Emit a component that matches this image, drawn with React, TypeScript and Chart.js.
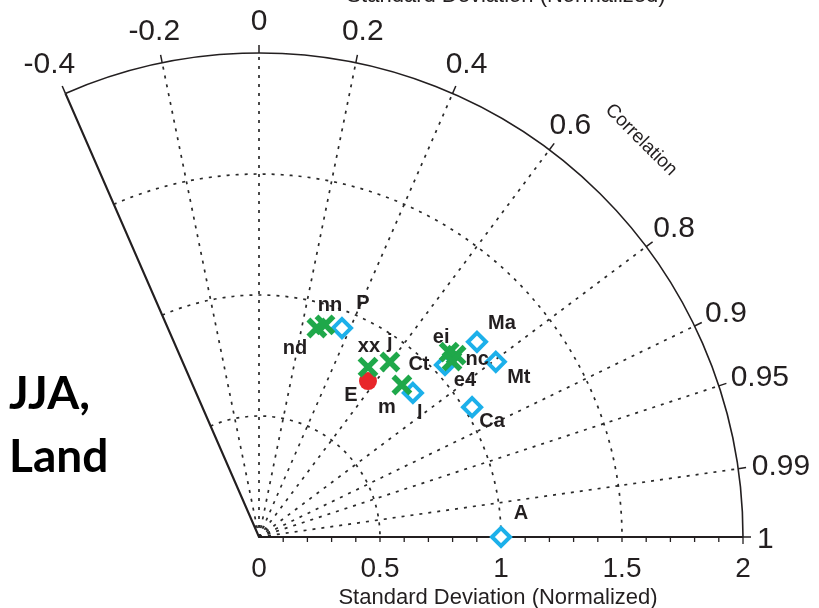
import { useEffect, useRef } from "react";
import { Chart, registerables } from "chart.js";

Chart.register(...registerables);

// Correlation rays / labels around the outer arc
const corrTicks = [-0.4, -0.2, 0, 0.2, 0.4, 0.6, 0.8, 0.9, 0.95, 0.99, 1];
const corrTickLabels = ["-0.4", "-0.2", "0", "0.2", "0.4", "0.6", "0.8", "0.9", "0.95", "0.99", "1"];

// Normalized standard deviation axis
const stdArcs = [0.5, 1, 1.5];
const stdTicks = [0, 0.5, 1, 1.5, 2];
const stdTickLabels = ["0", "0.5", "1", "1.5", "2"];
const stdMax = 2;

// Green crosses
const modelNames = ["nd", "nn", "xx", "j", "m", "ei", "nc", "e4"];
const modelStd = [0.896, 0.918, 0.834, 0.903, 0.862, 1.096, 1.108, 1.079];
const modelCorr = [0.267, 0.297, 0.54, 0.599, 0.685, 0.717, 0.735, 0.739];

// Blue diamonds
const obsNames = ["P", "l", "Ct", "Ma", "Mt", "Ca"];
const obsStd = [0.929, 0.871, 1.047, 1.209, 1.217, 1.031];
const obsCorr = [0.369, 0.73, 0.734, 0.745, 0.804, 0.854];

// Red circle
const ensNames = ["E"];
const ensStd = [0.786];
const ensCorr = [0.573];

// Reference point
const refNames = ["A"];
const refStd = [1];
const refCorr = [1];

// Label offsets in pixels from each marker (layout only)
const modelLabelOffsets = [[-22, 19], [5, -20], [1, -22], [0, -21], [-15, 21], [-8, -16], [21, 3], [13, 18]];
const obsLabelOffsets = [[21, -26], [7, 20], [-26, -1], [25, -19], [23, 15], [20, 13]];
const ensLabelOffsets = [[-17, 13]];
const refLabelOffsets = [[20, -25]];

const GREEN = "#1fa84a";
const BLUE = "#1cb0ea";
const RED = "#e8262a";
const INK = "#231f20";
const SANS = '"Liberation Sans", Arial, sans-serif';

const W = 819;
const H = 608;
const ORIGIN_X = 259;
const ORIGIN_Y = 537;
const UNIT = 242;

const toXY = (s: number, c: number) => ({ x: s * c, y: s * Math.sqrt(Math.max(0, 1 - c * c)) });
const toPoints = (std: number[], corr: number[]) => std.map((s, i) => toXY(s, corr[i]));

const taylorPlugin = {
  id: "taylor",
  beforeDatasetsDraw(chart: any) {
    const { ctx } = chart;
    const sx = chart.scales.x;
    const sy = chart.scales.y;
    const ox = sx.getPixelForValue(0);
    const oy = sy.getPixelForValue(0);
    const unit = sx.getPixelForValue(1) - ox;
    const R = stdMax * unit;
    const thetaMax = Math.acos(corrTicks[0]);

    ctx.save();
    ctx.lineCap = "butt";

    // dotted std-dev arcs
    ctx.strokeStyle = "#2a2a2a";
    ctx.lineWidth = 1.7;
    ctx.setLineDash([3, 6]);
    for (const r of stdArcs) {
      ctx.beginPath();
      ctx.arc(ox, oy, r * unit, -thetaMax, 0);
      ctx.stroke();
    }

    // dotted correlation rays
    for (const c of corrTicks) {
      if (c === corrTicks[0] || c === 1) continue;
      const t = Math.acos(c);
      ctx.beginPath();
      ctx.moveTo(ox, oy);
      ctx.lineTo(ox + R * Math.cos(t), oy - R * Math.sin(t));
      ctx.stroke();
    }

    // small arc at the origin
    ctx.setLineDash([2, 2]);
    ctx.lineWidth = 2;
    ctx.beginPath();
    ctx.arc(ox, oy, 11, -thetaMax, 0);
    ctx.stroke();
    ctx.setLineDash([]);

    // solid frame
    ctx.strokeStyle = INK;
    ctx.lineWidth = 1.6;
    ctx.beginPath();
    ctx.arc(ox, oy, R, -thetaMax, 0);
    ctx.stroke();

    ctx.lineWidth = 2.2;
    ctx.beginPath();
    ctx.moveTo(ox + R * Math.cos(thetaMax), oy - R * Math.sin(thetaMax));
    ctx.lineTo(ox, oy);
    ctx.lineTo(ox + R, oy);
    ctx.stroke();

    // outward ticks on the arc
    ctx.lineWidth = 1.5;
    for (const c of corrTicks) {
      const t = Math.acos(c);
      ctx.beginPath();
      ctx.moveTo(ox + R * Math.cos(t), oy - R * Math.sin(t));
      ctx.lineTo(ox + (R + 8) * Math.cos(t), oy - (R + 8) * Math.sin(t));
      ctx.stroke();
    }

    // minor ticks along the std axis
    ctx.lineWidth = 1.3;
    for (let k = 1; k <= 20; k++) {
      const px = sx.getPixelForValue(k / 10);
      ctx.beginPath();
      ctx.moveTo(px, oy);
      ctx.lineTo(px, oy + (k === 20 ? 7 : 5));
      ctx.stroke();
    }
    ctx.restore();
  },
  afterDatasetsDraw(chart: any) {
    const { ctx } = chart;
    const sx = chart.scales.x;
    const sy = chart.scales.y;
    const ox = sx.getPixelForValue(0);
    const oy = sy.getPixelForValue(0);
    const unit = sx.getPixelForValue(1) - ox;
    const R = stdMax * unit;

    ctx.save();
    ctx.fillStyle = INK;

    // correlation labels
    ctx.font = `30px ${SANS}`;
    ctx.textAlign = "center";
    ctx.textBaseline = "alphabetic";
    const h = 21.5;
    corrTicks.forEach((c, i) => {
      const t = Math.acos(c);
      const dx = Math.cos(t);
      const dy = Math.sin(t);
      const tipX = ox + (R + 8) * dx;
      const tipY = oy - (R + 8) * dy;
      const w = ctx.measureText(corrTickLabels[i]).width;
      const cx = tipX + dx * (w / 2 + 6);
      const cy = tipY - dy * (h / 2 + 15);
      ctx.fillText(corrTickLabels[i], cx, cy + h / 2);
    });

    // std-dev tick labels
    ctx.font = `28px ${SANS}`;
    stdTicks.forEach((v, i) => {
      ctx.fillText(stdTickLabels[i], sx.getPixelForValue(v), oy + 40);
    });

    // axis titles
    ctx.font = `22px ${SANS}`;
    ctx.fillText("Standard Deviation (Normalized)", 498, 604);
    ctx.fillText("Standard Deviation (Normalized)", 506, 2);

    ctx.save();
    ctx.translate(641, 140);
    ctx.rotate((45 * Math.PI) / 180);
    ctx.font = `19px ${SANS}`;
    ctx.textBaseline = "middle";
    ctx.fillText("Correlation", 0, 0);
    ctx.restore();

    // panel tag
    ctx.font = `bold 46px Lato, "Open Sans", sans-serif`;
    ctx.textAlign = "left";
    ctx.fillStyle = "#000";
    ctx.fillText("JJA,", 9, 409);
    ctx.fillText("Land", 9, 472);

    // point labels
    ctx.fillStyle = INK;
    ctx.font = `bold 20px ${SANS}`;
    ctx.textAlign = "center";
    ctx.textBaseline = "middle";
    const groups: [string[], number[], number[], number[][]][] = [
      [modelNames, modelStd, modelCorr, modelLabelOffsets],
      [obsNames, obsStd, obsCorr, obsLabelOffsets],
      [ensNames, ensStd, ensCorr, ensLabelOffsets],
      [refNames, refStd, refCorr, refLabelOffsets],
    ];
    for (const [names, std, corr, offs] of groups) {
      names.forEach((n, i) => {
        const p = toXY(std[i], corr[i]);
        const px = sx.getPixelForValue(p.x) + offs[i][0];
        const py = sy.getPixelForValue(p.y) + offs[i][1];
        ctx.fillText(n, px, py + 1);
      });
    }
    ctx.restore();
  },
};

export default function App() {
  const canvasRef = useRef<HTMLCanvasElement | null>(null);

  useEffect(() => {
    document.body.style.margin = "0";
    const canvas = canvasRef.current;
    if (!canvas) return;

    const chart = new Chart(canvas, {
      type: "scatter",
      data: {
        datasets: [
          {
            label: "models",
            data: toPoints(modelStd, modelCorr),
            pointStyle: "crossRot",
            pointRadius: 12,
            borderColor: GREEN,
            backgroundColor: GREEN,
            pointBorderWidth: 5.5,
            clip: false,
          },
          {
            label: "ensemble",
            data: toPoints(ensStd, ensCorr),
            pointStyle: "circle",
            pointRadius: 9,
            pointBorderWidth: 0,
            backgroundColor: RED,
            borderColor: RED,
            clip: false,
          },
          {
            label: "observations",
            data: toPoints(obsStd, obsCorr),
            pointStyle: "rectRot",
            pointRadius: 9,
            pointBorderWidth: 4,
            borderColor: BLUE,
            backgroundColor: "rgba(0,0,0,0)",
            clip: false,
          },
          {
            label: "reference",
            data: toPoints(refStd, refCorr),
            pointStyle: "rectRot",
            pointRadius: 9,
            pointBorderWidth: 4,
            borderColor: BLUE,
            backgroundColor: "#ffffff",
            clip: false,
          },
          {
            label: "reference centre",
            data: toPoints(refStd, refCorr),
            pointStyle: "cross",
            pointRadius: 5,
            pointBorderWidth: 1.8,
            borderColor: "#000",
            backgroundColor: "#000",
            clip: false,
          },
        ],
      },
      options: {
        animation: false,
        responsive: false,
        devicePixelRatio: 1,
        layout: { padding: 0, autoPadding: false },
        events: [],
        plugins: { legend: { display: false }, tooltip: { enabled: false }, title: { display: false } },
        scales: {
          x: { type: "linear", display: false, min: -ORIGIN_X / UNIT, max: (W - ORIGIN_X) / UNIT },
          y: { type: "linear", display: false, min: -(H - ORIGIN_Y) / UNIT, max: ORIGIN_Y / UNIT },
        },
        elements: { point: { hoverRadius: 0 } },
      },
      plugins: [taylorPlugin],
    } as any);

    return () => chart.destroy();
  }, []);

  return (
    <div style={{ width: W, height: H, background: "#fff" }}>
      <canvas ref={canvasRef} width={W} height={H} style={{ display: "block" }} />
    </div>
  );
}
